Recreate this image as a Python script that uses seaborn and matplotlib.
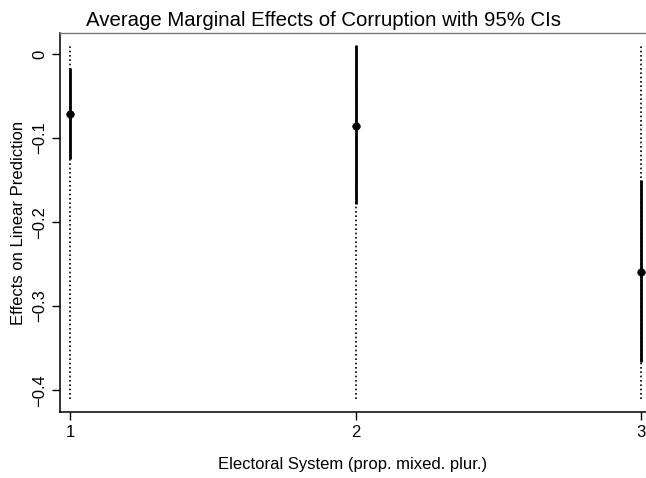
import numpy as np
import pandas as pd
import seaborn as sns
import matplotlib
matplotlib.use("Agg")
import matplotlib.pyplot as plt

# Marginal effects of corruption by electoral system
systems = [1, 2, 3]
effects = [-0.0714, -0.0853, -0.259]
ci_low = [-0.125, -0.178, -0.366]
ci_high = [-0.017, 0.0107, -0.150]
# dotted reference lines drawn at each system
ref_low = [-0.41, -0.41, -0.41]
ref_high = [0.012, 0.012, 0.012]

df = pd.DataFrame({"system": systems, "effect": effects,
                   "lo": ci_low, "hi": ci_high,
                   "rlo": ref_low, "rhi": ref_high})

sns.set_style("ticks")
plt.rcParams["font.family"] = ["Liberation Sans", "DejaVu Sans"]
plt.rcParams["text.color"] = "black"
plt.rcParams["axes.labelcolor"] = "black"
plt.rcParams["xtick.color"] = "black"
plt.rcParams["ytick.color"] = "black"

fig = plt.figure(figsize=(6.46, 4.78), dpi=100)
ax = fig.add_axes([60 / 646, 1 - 412 / 478, 1 - 60 / 646, (412 - 33) / 478])

# dotted lines
ax.vlines(df["system"], df["rlo"], df["rhi"], colors="black",
          linestyles=(0, (1, 1.6)), linewidth=1.2)
# confidence intervals
ax.vlines(df["system"], df["lo"], df["hi"], colors="black", linewidth=2.0)
sns.scatterplot(data=df, x="system", y="effect", color="black", s=30,
                edgecolor="black", zorder=5, ax=ax)

ax.set_xlim(1 - 10.5 / 285.5, 3 + 5 / 285.5)
ax.set_ylim(-0.426, 0.025)
ax.set_xticks(systems)
ax.set_yticks([0, -0.1, -0.2, -0.3, -0.4])
ax.set_yticklabels(["0", "\u22120.1", "\u22120.2", "\u22120.3", "\u22120.4"],
                   rotation=90, va="center")
ax.tick_params(axis="both", length=6, width=1, labelsize=12, color="black",
               labelcolor="black")
ax.tick_params(axis="y", pad=3)

for s in ["left", "bottom"]:
    ax.spines[s].set_linewidth(1.1)
    ax.spines[s].set_color("black")
ax.spines["top"].set_color("#777777")
ax.spines["top"].set_linewidth(1.0)
ax.spines["right"].set_visible(False)

ax.set_xlabel("Electoral System (prop. mixed. plur.)", fontsize=12, labelpad=12)
ax.set_ylabel("Effects on Linear Prediction", fontsize=12, labelpad=5)
ax.set_title("Average Marginal Effects of Corruption with 95% CIs",
             fontsize=14.7, pad=5, x=(323 - 60) / 586)

fig.savefig("out.png", dpi=100)
